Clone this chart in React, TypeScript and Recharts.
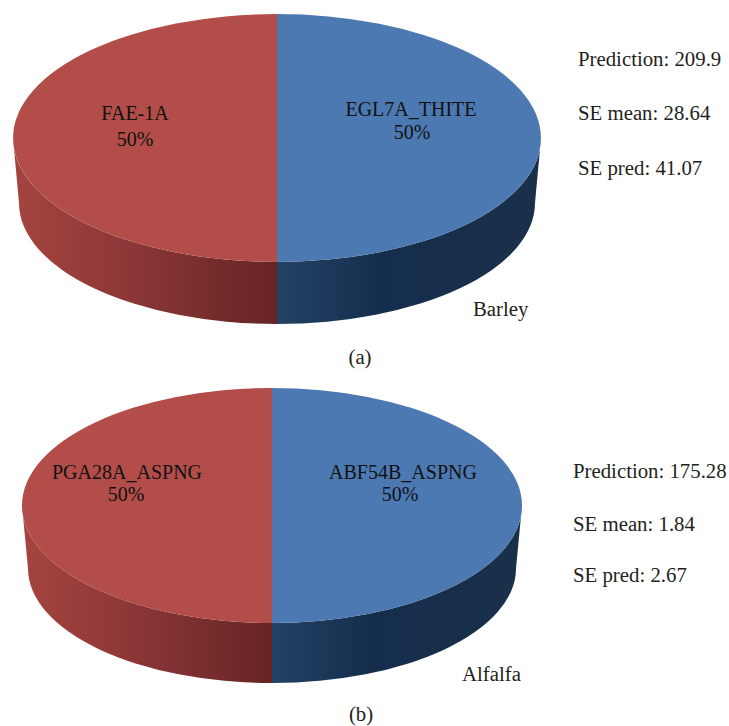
import { Cell, Pie, PieChart } from "recharts";

const barleyEnzymes = ["EGL7A_THITE", "FAE-1A"];
const barleyShares = [50, 50];
const barleyStats = ["Prediction: 209.9", "SE mean: 28.64", "SE pred: 41.07"];

const alfalfaEnzymes = ["ABF54B_ASPNG", "PGA28A_ASPNG"];
const alfalfaShares = [50, 50];
const alfalfaStats = ["Prediction: 175.28", "SE mean: 1.84", "SE pred: 2.67"];

const FONT = '"Liberation Serif", serif';
const TOP_FILLS = ["#4c79b1", "#b34d4a"];
const WALL_FILLS = ["url(#wallBlue)", "url(#wallRed)"];

const toRad = (deg: number) => (deg * Math.PI) / 180;

/** Top face of a slice, squashed from the pie's circle to an ellipse. */
function topFace(ry: number) {
  return (props: any) => {
    const { cx, cy, outerRadius: rx, startAngle, endAngle, fill } = props;
    const x0 = cx + rx * Math.cos(toRad(startAngle));
    const y0 = cy - ry * Math.sin(toRad(startAngle));
    const x1 = cx + rx * Math.cos(toRad(endAngle));
    const y1 = cy - ry * Math.sin(toRad(endAngle));
    const large = Math.abs(startAngle - endAngle) > 180 ? 1 : 0;
    return (
      <path
        d={`M${cx},${cy} L${x0},${y0} A${rx},${ry} 0 ${large} 1 ${x1},${y1} Z`}
        fill={fill}
      />
    );
  };
}

/** Side wall: the part of a slice on the front half, extruded to a slightly smaller base. */
function sideWall(ry: number, depth: number, inset: number) {
  return (props: any) => {
    const { cx, cy, outerRadius: rx, startAngle, endAngle, fill } = props;
    const from = Math.min(startAngle, 0);
    const to = Math.max(endAngle, -180);
    if (from <= to) return <g />;
    const baseRx = rx - inset;
    const baseRy = ry - inset / 2;
    const baseCy = cy + ry + depth - baseRy;
    const pt = (a: number, r: number, s: number, c: number) =>
      `${cx + r * Math.cos(toRad(a))},${c - s * Math.sin(toRad(a))}`;
    return (
      <path
        d={`M${pt(from, rx, ry, cy)} A${rx},${ry} 0 0 1 ${pt(to, rx, ry, cy)} L${pt(to, baseRx, baseRy, baseCy)} A${baseRx},${baseRy} 0 0 0 ${pt(from, baseRx, baseRy, baseCy)} Z`}
        fill={fill}
      />
    );
  };
}

interface PanelProps {
  names: string[];
  shares: number[];
  cx: number;
  cy: number;
  rx: number;
  ry: number;
  depth: number;
  labelAt: { name: [number, number]; pct: [number, number] }[];
}

function Panel({ names, shares, cx, cy, rx, ry, depth, labelAt }: PanelProps) {
  const data = names.map((name, i) => ({ name, value: shares[i] }));
  const renderLabel = (props: any) => {
    const at = labelAt[names.indexOf(props.name)];
    return (
      <g fontFamily={FONT} fontSize={20} fill="#111" textAnchor="middle">
        <text x={at.name[0]} y={at.name[1]}>{props.name}</text>
        <text x={at.pct[0]} y={at.pct[1]}>{`${Math.round(props.percent * 100)}%`}</text>
      </g>
    );
  };
  return (
    <PieChart
      width={729}
      height={363}
      margin={{ top: 0, right: 0, bottom: 0, left: 0 }}
      style={{ position: "absolute", left: 0, top: 0 }}
    >
      <defs>
        <linearGradient id="wallRed" x1="0" x2="1" y1="0" y2="0">
          <stop offset="0" stopColor="#a5443f" />
          <stop offset="0.5" stopColor="#883536" />
          <stop offset="1" stopColor="#672423" />
        </linearGradient>
        <linearGradient id="wallBlue" x1="0" x2="1" y1="0" y2="0">
          <stop offset="0" stopColor="#234265" />
          <stop offset="0.4" stopColor="#152d4d" />
          <stop offset="1" stopColor="#1a304a" />
        </linearGradient>
      </defs>
      <Pie
        data={data}
        dataKey="value"
        nameKey="name"
        cx={cx}
        cy={cy}
        outerRadius={rx}
        startAngle={90}
        endAngle={-270}
        stroke="none"
        shape={sideWall(ry, depth, 6)}
        isAnimationActive={false}
      >
        {data.map((d, i) => (
          <Cell key={d.name} fill={WALL_FILLS[i]} />
        ))}
      </Pie>
      <Pie
        data={data}
        dataKey="value"
        nameKey="name"
        cx={cx}
        cy={cy}
        outerRadius={rx}
        startAngle={90}
        endAngle={-270}
        stroke="none"
        shape={topFace(ry)}
        label={renderLabel}
        labelLine={false}
        isAnimationActive={false}
      >
        {data.map((d, i) => (
          <Cell key={d.name} fill={TOP_FILLS[i]} />
        ))}
      </Pie>
    </PieChart>
  );
}

function Caption({ x, y, children, middle }: { x: number; y: number; children: string; middle?: boolean }) {
  return (
    <text x={x} y={y} fontFamily={FONT} fontSize={20.8} fill="#231f20" textAnchor={middle ? "middle" : "start"}>
      {children}
    </text>
  );
}

export default function App() {
  return (
    <div style={{ position: "absolute", left: 0, top: 0, width: 729, height: 726, background: "#fff", overflow: "hidden" }}>
      <div style={{ position: "absolute", left: 0, top: 0, width: 729, height: 363 }}>
        <Panel
          names={barleyEnzymes}
          shares={barleyShares}
          cx={277}
          cy={138}
          rx={264}
          ry={124}
          depth={62}
          labelAt={[
            { name: [411, 116], pct: [412, 139] },
            { name: [135, 120], pct: [135, 146] },
          ]}
        />
      </div>
      <div style={{ position: "absolute", left: 0, top: 363, width: 729, height: 363 }}>
        <Panel
          names={alfalfaEnzymes}
          shares={alfalfaShares}
          cx={272}
          cy={142.5}
          rx={250}
          ry={117.5}
          depth={60}
          labelAt={[
            { name: [403, 116], pct: [400, 138] },
            { name: [127, 116], pct: [126, 138] },
          ]}
        />
      </div>
      <svg width={729} height={726} style={{ position: "absolute", left: 0, top: 0 }}>
        {barleyStats.map((s, i) => (
          <Caption key={s} x={578} y={[66, 120, 175][i]}>{s}</Caption>
        ))}
        <Caption x={473} y={316}>Barley</Caption>
        <Caption x={360} y={364} middle>(a)</Caption>
        {alfalfaStats.map((s, i) => (
          <Caption key={s} x={573} y={[478, 531, 582][i]}>{s}</Caption>
        ))}
        <Caption x={462} y={681}>Alfalfa</Caption>
        <Caption x={361} y={721} middle>(b)</Caption>
      </svg>
    </div>
  );
}
